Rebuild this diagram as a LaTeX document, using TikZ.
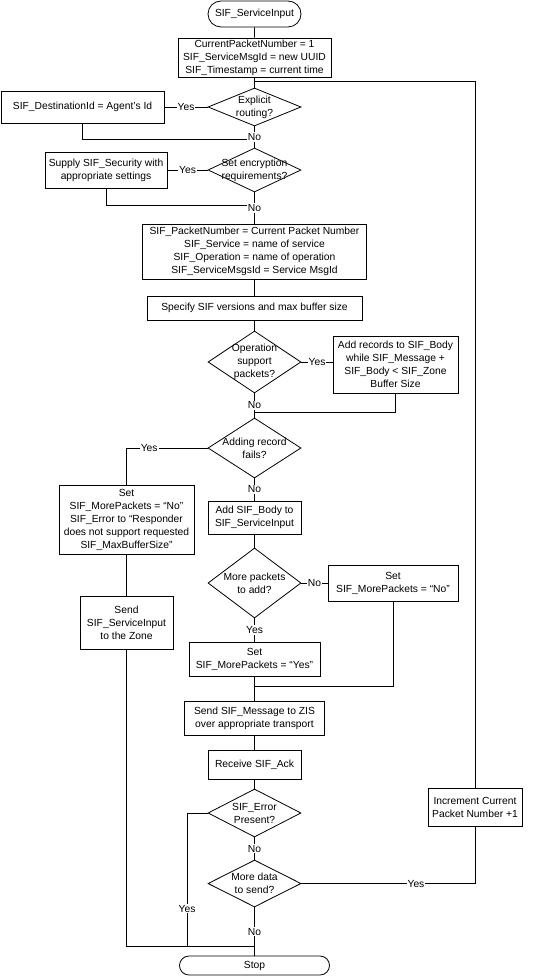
\documentclass[tikz,border=0pt]{standalone}
\usepackage{fontspec}
\setmainfont{Liberation Sans}
\usetikzlibrary{shapes.geometric,shapes.misc}

\begin{document}
\begin{tikzpicture}
[
    x=1pt, y=-1pt,
    line width=0.8pt,
    every node/.style={font=\fontsize{10.3}{13}\selectfont},
    blk/.style={draw, rectangle, align=center, inner sep=0pt},
    dia/.style={draw, diamond, inner sep=0pt, minimum width=93pt},
    dtext/.style={align=center, inner sep=0pt},
    term/.style={draw, rounded rectangle, inner sep=0pt},
    lbl/.style={fill=white, inner sep=1pt},
]
\useasboundingbox (0,0) rectangle (538,976);

\node [term, minimum width=93pt, minimum height=26pt] (start) at (254.5,14) {SIF\_ServiceInput};
\node [blk, minimum width=153pt, minimum height=39pt] (init) at (254.5,57.5)
{CurrentPacketNumber = 1\\SIF\_ServiceMsgId = new UUID\\SIF\_Timestamp = current time};
\node [dia, minimum height=38pt] (d1) at (254.5,107) {};
\node [dtext] (d1t) at (d1) {Explicit\\routing?};
\node [blk, minimum width=163pt, minimum height=32pt] (dest) at (82.5,107) {SIF\_DestinationId = Agent’s Id};
\node [dia, minimum height=44pt] (d2) at (254.5,170) {};
\node [dtext] (d2t) at (d2) {Set encryption\\requirements?};
\node [blk, minimum width=122pt, minimum height=36pt] (supply) at (106,170) {Supply SIF\_Security with\\appropriate settings};
\node [blk, minimum width=224pt, minimum height=55pt] (pk) at (254.5,251.5)
{SIF\_PacketNumber = Current Packet Number\\SIF\_Service = name of service\\SIF\_Operation = name of operation\\SIF\_ServiceMsgsId = Service MsgId};
\node [blk, minimum width=215pt, minimum height=24pt] (spec) at (254.5,308) {Specify SIF versions and max buffer size};
\node [dia, minimum height=62pt] (d3) at (254.5,362) {};
\node [dtext] (d3t) at (d3) {Operation\\support\\packets?};
\node [blk, minimum width=125pt, minimum height=57pt] (addrec) at (395.5,364.5)
{Add records to SIF\_Body\\while SIF\_Message +\\SIF\_Body < SIF\_Zone\\Buffer Size};
\node [dia, minimum height=60pt] (d4) at (254.5,448) {};
\node [dtext] (d4t) at (d4) {Adding record\\fails?};
\node [blk, minimum width=135pt, minimum height=69pt] (setno1) at (126.5,519.5)
{Set\\SIF\_MorePackets = “No”\\SIF\_Error to “Responder\\does not support requested\\SIF\_MaxBufferSize”};
\node [blk, minimum width=93pt, minimum height=53pt] (sendzone) at (126.5,622.5) {Send\\SIF\_ServiceInput\\to the Zone};
\node [blk, minimum width=93pt, minimum height=33pt] (addbody) at (254.5,517.5) {Add SIF\_Body to\\SIF\_ServiceInput};
\node [dia, minimum height=70pt] (d5) at (254.5,583) {};
\node [dtext] (d5t) at (d5) {More packets\\to add?};
\node [blk, minimum width=130pt, minimum height=36pt] (setno2) at (393,583) {Set\\SIF\_MorePackets = “No”};
\node [blk, minimum width=131pt, minimum height=34pt] (setyes) at (254.5,659) {Set\\SIF\_MorePackets = “Yes”};
\node [blk, minimum width=140pt, minimum height=34pt] (sendmsg) at (254.5,718) {Send SIF\_Message to ZIS\\over appropriate transport};
\node [blk, minimum width=93pt, minimum height=29pt] (recv) at (254.5,764.5) {Receive SIF\_Ack};
\node [dia, minimum height=48pt] (d6) at (254.5,813) {};
\node [dtext] (d6t) at (d6) {SIF\_Error\\Present?};
\node [dia, minimum height=47pt] (d7) at (254.5,883.5) {};
\node [dtext] (d7t) at (d7) {More data\\to send?};
\node [blk, minimum width=94pt, minimum height=38pt] (incr) at (475,807) {Increment Current\\Packet Number +1};
\node [term, minimum width=150pt, minimum height=19pt] (stop) at (254.5,965.5) {Stop};

\coordinate (m0) at (254.5,81);
\coordinate (m1) at (254.5,139);
\coordinate (m2) at (254.5,205);
\coordinate (m3) at (254.5,412);
\coordinate (m5) at (254.5,686);
\coordinate (m6) at (187,946);
\coordinate (m7) at (254.5,946);

\draw (start) -- (init);
\draw (init) -- (d1);
\draw (d1.west) -- node[lbl]{Yes} (dest.east);
\draw (dest.south) |- (m1);
\draw (d1) -- node[lbl]{No} (d2);
\draw (d2.west) -- node[lbl]{Yes} (supply.east);
\draw (supply.south) |- (m2);
\draw (d2) -- node[lbl]{No} (pk);
\draw (pk) -- (spec);
\draw (spec) -- (d3);
\draw (d3.east) -- node[lbl]{Yes} (d3.east -| addrec.west);
\draw (addrec.south) |- (m3);
\draw (d3) -- node[lbl]{No} (d4);
\draw (d4.west) -| node[lbl, pos=0.36]{Yes} (setno1.north);
\draw (setno1) -- (sendzone);
\draw (sendzone.south) |- (m7);
\draw (d4) -- node[lbl]{No} (addbody);
\draw (addbody) -- (d5);
\draw (d5.east) -- node[lbl]{No} (setno2.west);
\draw (setno2.south) |- (m5);
\draw (d5) -- node[lbl]{Yes} (setyes);
\draw (setyes) -- (sendmsg);
\draw (sendmsg) -- (recv);
\draw (recv) -- (d6);
\draw (d6.west) -| node[lbl, pos=0.86]{Yes} (m6);
\draw (d6) -- node[lbl]{No} (d7);
\draw (d7) -- node[lbl]{No} (stop);
\draw (d7.east) -| node[lbl, pos=0.33]{Yes} (incr.south);
\draw (incr.north) |- (m0);
\end{tikzpicture}
\end{document}
